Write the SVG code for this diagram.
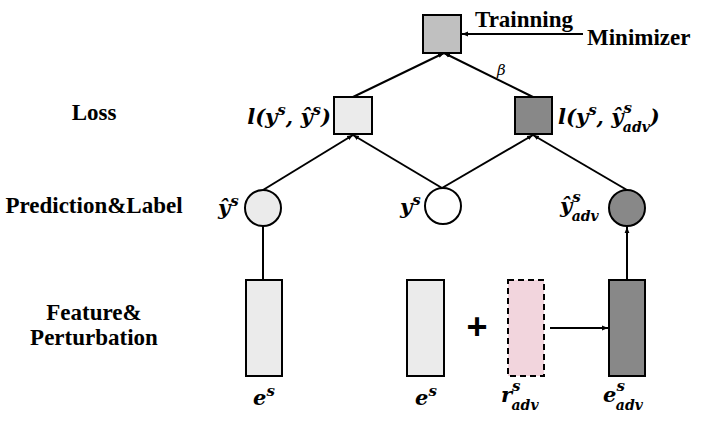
<svg xmlns="http://www.w3.org/2000/svg" width="706" height="430" viewBox="0 0 706 430">
<defs>
<marker id="ah" viewBox="0 0 10 10" refX="10" refY="5" markerWidth="6" markerHeight="6" orient="auto" markerUnits="userSpaceOnUse">
<path d="M0,1 L10,5 L0,9 z" fill="#000"/>
</marker>
</defs>
<style>
.box{stroke:#000;stroke-width:2}
.ln{stroke:#000;stroke-width:2;fill:none}
.lbl{font-family:"Liberation Serif","Times New Roman",serif;font-weight:bold;font-size:23px;fill:#000}
.m{font-family:"DejaVu Serif","Liberation Serif",serif;font-weight:bold;font-style:italic;font-size:21px;fill:#000}
.sup{font-size:15px}
.sub{font-size:14px}
</style>
<rect width="706" height="430" fill="#fff"/>
<g id="side-labels">
<text class="lbl" x="94" y="120" text-anchor="middle">Loss</text>
<text class="lbl" x="94" y="213" text-anchor="middle">Prediction&amp;Label</text>
<text class="lbl" x="94" y="320" text-anchor="middle">Feature&amp;</text>
<text class="lbl" x="94" y="345" text-anchor="middle">Perturbation</text>
</g>
<g id="connectors">
<line class="ln" x1="583" y1="34" x2="462" y2="34" marker-end="url(#ah)"/>
<line class="ln" x1="353" y1="97" x2="444" y2="53" marker-end="url(#ah)"/>
<line class="ln" x1="533" y1="97" x2="444" y2="53" marker-end="url(#ah)"/>
<line class="ln" x1="263" y1="190" x2="353" y2="135" marker-end="url(#ah)"/>
<line class="ln" x1="442" y1="188" x2="353" y2="135" marker-end="url(#ah)"/>
<line class="ln" x1="442" y1="188" x2="533" y2="135" marker-end="url(#ah)"/>
<line class="ln" x1="627" y1="190" x2="533" y2="135" marker-end="url(#ah)"/>
<line class="ln" x1="263" y1="226" x2="263" y2="280"/>
<line class="ln" x1="627" y1="280" x2="627" y2="227" marker-end="url(#ah)"/>
<line class="ln" x1="550" y1="328" x2="608" y2="328" marker-end="url(#ah)"/>
<text x="497" y="75" font-family="DejaVu Serif,serif" font-style="italic" font-size="15">β</text>
</g>
<g id="top">
<rect class="box" x="423" y="15" width="38" height="38" fill="#c0c0c0"/>
</g>
<g id="training-label">
<text class="lbl" x="475" y="27">Trainning</text>
</g>
<g id="minimizer">
<text class="lbl" x="587" y="45">Minimizer</text>
</g>
<g id="loss-clean">
<rect class="box" x="334" y="97" width="38" height="37" fill="#ebebeb"/>
<text class="m" x="331" y="124" text-anchor="end">l(y<tspan class="sup" dy="-9">s</tspan><tspan dy="9">, ŷ</tspan><tspan class="sup" dy="-9">s</tspan><tspan dy="9">)</tspan></text>
</g>
<g id="loss-adv">
<rect class="box" x="515" y="97" width="37" height="37" fill="#888"/>
<text class="m" x="558" y="124">l(y<tspan class="sup" dy="-9">s</tspan><tspan dy="9">, ŷ</tspan><tspan class="sup" dy="-11">s</tspan><tspan class="sub" dx="-9" dy="19">adv</tspan><tspan dy="-8">)</tspan></text>
</g>
<g id="pred-clean">
<circle class="box" cx="263" cy="208" r="18" fill="#ebebeb"/>
<text class="m" x="218" y="215">ŷ<tspan class="sup" dy="-9">s</tspan></text>
</g>
<g id="label-y">
<circle class="box" cx="443" cy="206" r="18" fill="#fff"/>
<text class="m" x="400" y="214">y<tspan class="sup" dy="-9">s</tspan></text>
</g>
<g id="pred-adv">
<circle class="box" cx="627" cy="208" r="18" fill="#888"/>
<text class="m" x="560" y="213">ŷ<tspan class="sup" dy="-11">s</tspan><tspan class="sub" dx="-9" dy="19">adv</tspan></text>
</g>
<g id="feat-clean">
<rect class="box" x="246" y="280" width="36" height="96" fill="#ebebeb"/>
<text class="m" x="253" y="405">e<tspan class="sup" dy="-9">s</tspan></text>
</g>
<g id="feat-clean2">
<rect class="box" x="407" y="280" width="37" height="96" fill="#ebebeb"/>
<text class="m" x="415" y="405">e<tspan class="sup" dy="-9">s</tspan></text>
</g>
<g id="plus">
<text x="477" y="339" text-anchor="middle" font-family="Liberation Sans,Arial,sans-serif" font-weight="bold" font-size="36">+</text>
</g>
<g id="perturb">
<rect x="508" y="280" width="36" height="96" fill="#f2d5dd" stroke="#000" stroke-width="2" stroke-dasharray="6,4"/>
<text class="m" x="501" y="402">r<tspan class="sup" dy="-11">s</tspan><tspan class="sub" dx="-9" dy="19">adv</tspan></text>
</g>
<g id="feat-adv">
<rect class="box" x="609" y="280" width="36" height="96" fill="#888"/>
<text class="m" x="603" y="402">e<tspan class="sup" dy="-11">s</tspan><tspan class="sub" dx="-9" dy="19">adv</tspan></text>
</g>
</svg>
